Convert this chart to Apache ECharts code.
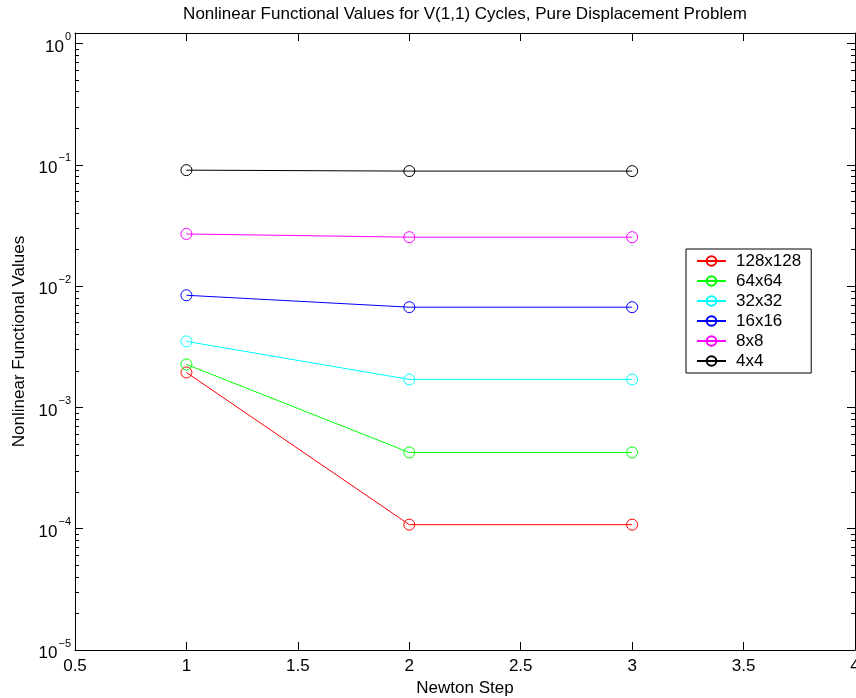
<!DOCTYPE html>
<html>
<head>
<meta charset="utf-8">
<script src="https://cdn.jsdelivr.net/npm/echarts@6/dist/echarts.min.js"></script>
<style>
  html, body { margin: 0; padding: 0; background: #fff; }
  #chart { width: 856px; height: 698px; }
</style>
</head>
<body>
<div id="chart"></div>
<script>
// Newton steps on the x axis
const steps = [1, 2, 3];

// Grid sizes (legend order) and their line colours
const gridNames = ['128x128', '64x64', '32x32', '16x16', '8x8', '4x4'];
const gridColors = ['#ff0000', '#00ff00', '#00ffff', '#0000ff', '#ff00ff', '#000000'];

// Nonlinear functional value after each Newton step
const v128 = [1.94e-3, 1.08e-4, 1.08e-4];
const v64 = [2.26e-3, 4.25e-4, 4.25e-4];
const v32 = [3.50e-3, 1.70e-3, 1.70e-3];
const v16 = [8.40e-3, 6.70e-3, 6.70e-3];
const v8 = [2.69e-2, 2.53e-2, 2.53e-2];
const v4 = [9.03e-2, 8.87e-2, 8.87e-2];

// Axis ranges and ticks
const xMin = 0.5, xMax = 4, xStep = 0.5;
const yMin = 1e-5, yMax = 1.22;
const yMajor = [1e-5, 1e-4, 1e-3, 1e-2, 1e-1, 1e0];
const yMinorFactors = [2, 3, 4, 5, 6, 7, 8, 9];

const seriesValues = [v128, v64, v32, v16, v8, v4];

const FONT = "'Liberation Sans', Arial, Helvetica, sans-serif";
const FS = 17;

const yMinor = [];
yMajor.forEach(function (d) {
  yMinorFactors.forEach(function (f) {
    const v = d * f;
    if (v < yMax) yMinor.push(v);
  });
});

function expLabel(value) {
  const e = Math.round(Math.log10(value));
  const txt = e < 0 ? '\u2212' + Math.abs(e) : String(e);
  return '{b|10}{e|' + txt + '}';
}

const chart = echarts.init(document.getElementById('chart'), null, { renderer: 'canvas' });

const axisLineStyle = { show: true, lineStyle: { color: '#000', width: 1 } };

function yAxisDef(position, ticks, len, withLine, withLabels) {
  return {
    type: 'log',
    logBase: 10,
    position: position,
    min: yMin,
    max: yMax,
    axisLine: withLine ? axisLineStyle : { show: false },
    axisTick: { show: true, inside: true, length: len, customValues: ticks, lineStyle: { color: '#000', width: 1 } },
    axisLabel: withLabels ? {
      show: true,
      customValues: yMajor,
      margin: 4,
      formatter: expLabel,
      rich: {
        b: { fontFamily: FONT, fontSize: FS, color: '#000', verticalAlign: 'bottom', padding: [7, 0, 0, 0] },
        e: { fontFamily: FONT, fontSize: 11, color: '#000', verticalAlign: 'top', padding: [0, 0, 0, 1] }
      }
    } : { show: false },
    splitLine: { show: false },
    minorTick: { show: false },
    minorSplitLine: { show: false }
  };
}

const option = {
  animation: false,
  backgroundColor: '#ffffff',
  textStyle: { fontFamily: FONT },
  grid: { left: 75, right: 1, top: 33, bottom: 48, containLabel: false, outerBoundsMode: 'none' },
  legend: {
    orient: 'vertical',
    left: 686,
    top: 249,
    padding: [3.5, 10, 3.5, 10],
    itemWidth: 29,
    itemHeight: 12,
    itemGap: 3,
    borderColor: '#000',
    borderWidth: 1,
    backgroundColor: '#ffffff',
    data: gridNames,
    textStyle: { fontFamily: FONT, fontSize: FS, color: '#000', padding: [0, 0, 0, 5] }
  },
  xAxis: [
    {
      type: 'value',
      position: 'bottom',
      min: xMin,
      max: xMax,
      interval: xStep,
      name: 'Newton Step',
      nameLocation: 'middle',
      nameGap: 29,
      nameTextStyle: { fontFamily: FONT, fontSize: FS, color: '#000' },
      axisLine: axisLineStyle,
      axisTick: { show: true, inside: true, length: 8, lineStyle: { color: '#000' } },
      axisLabel: {
        show: true, margin: 8, fontFamily: FONT, fontSize: FS, color: '#000',
        showMinLabel: true, showMaxLabel: true, hideOverlap: false,
        formatter: function (v) { return String(v); }
      },
      splitLine: { show: false }
    },
    {
      type: 'value',
      position: 'top',
      min: xMin,
      max: xMax,
      interval: xStep,
      name: 'Nonlinear Functional Values for V(1,1) Cycles, Pure Displacement Problem',
      nameLocation: 'middle',
      nameGap: 10,
      nameTextStyle: { fontFamily: FONT, fontSize: FS, color: '#000' },
      axisLine: axisLineStyle,
      axisTick: { show: true, inside: true, length: 8, lineStyle: { color: '#000' } },
      axisLabel: { show: false },
      splitLine: { show: false }
    }
  ],
  yAxis: [
    Object.assign(yAxisDef('left', yMajor, 8, true, true), {
      name: 'Nonlinear Functional Values',
      nameLocation: 'middle',
      nameGap: 47,
      nameRotate: 90,
      nameTextStyle: { fontFamily: FONT, fontSize: FS, color: '#000' }
    }),
    yAxisDef('left', yMinor, 4, false, false),
    yAxisDef('right', yMajor, 8, true, false),
    yAxisDef('right', yMinor, 4, false, false)
  ],
  series: gridNames.map(function (name, k) {
    const c = gridColors[k];
    return {
      name: name,
      type: 'line',
      xAxisIndex: 0,
      yAxisIndex: 0,
      data: steps.map(function (s, i) { return [s, seriesValues[k][i]]; }),
      color: c,
      symbol: 'circle',
      symbolSize: 11,
      showSymbol: true,
      showAllSymbol: true,
      lineStyle: { color: c, width: 1 },
      itemStyle: { color: 'rgba(0,0,0,0)', borderColor: c, borderWidth: 1 },
      emphasis: { disabled: true },
      z: 2
    };
  })
};

chart.setOption(option);
</script>
</body>
</html>
